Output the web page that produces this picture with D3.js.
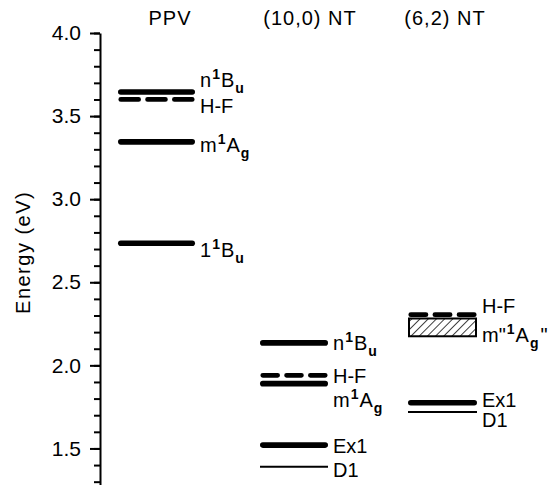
<!DOCTYPE html>
<html>
<head>
<meta charset="utf-8">
<script src="https://cdn.jsdelivr.net/npm/d3@7"></script>
<style>
  body { margin: 0; background: #fff; }
  svg { display: block; font-family: Arial, "Liberation Sans", sans-serif; }
  .axis path, .axis line { stroke: #000; stroke-width: 2; }
  .axis text { font-size: 21px; fill: #000; }
</style>
</head>
<body>
<svg id="chart" width="554" height="485"></svg>
<script>
var columns = ['PPV', '(10,0) NT', '(6,2) NT'];

// one entry per energy level
var levelColumn = ['PPV', 'PPV', 'PPV', 'PPV',
  '(10,0) NT', '(10,0) NT', '(10,0) NT', '(10,0) NT', '(10,0) NT',
  '(6,2) NT', '(6,2) NT', '(6,2) NT'];
var levelEnergy = [3.645, 3.60, 3.345, 2.735,
  2.135, 1.94, 1.89, 1.52, 1.39,
  2.305, 1.775, 1.72];
var levelKind = ['solid', 'dashed', 'solid', 'solid',
  'solid', 'dashed', 'solid', 'solid', 'thin',
  'dashed', 'solid', 'thin'];

// hatched band for m"1Ag" of (6,2) NT
var bandColumn = ['(6,2) NT'];
var bandLow = [2.175];
var bandHigh = [2.282];

// labels (energy of the text baseline): [base, superscript, subscript, letter, suffix]
var labelColumn = ['PPV', 'PPV', 'PPV', 'PPV',
  '(10,0) NT', '(10,0) NT', '(10,0) NT', '(10,0) NT', '(10,0) NT',
  '(6,2) NT', '(6,2) NT', '(6,2) NT', '(6,2) NT'];
var labelEnergy = [3.675, 3.519, 3.284, 2.652,
  2.093, 1.894, 1.750, 1.473, 1.329,
  2.315, 2.141, 1.750, 1.629];
var labelText = [
  ['n', '1', 'u', 'B'], ['H-F'], ['m', '1', 'g', 'A'], ['1', '1', 'u', 'B'],
  ['n', '1', 'u', 'B'], ['H-F'], ['m', '1', 'g', 'A'], ['Ex1'], ['D1'],
  ['H-F'], ['m"', '1', 'g', 'A', '"'], ['Ex1'], ['D1']
];

var majorTicks = [1.5, 2.0, 2.5, 3.0, 3.5, 4.0];
var minorTicks = d3.range(13, 41).map(function(d) { return d / 10; });

var svg = d3.select('#chart');

var y = d3.scaleLinear().domain([1.28, 4.0]).range([485, 33]);
var lineX = d3.scaleOrdinal().domain(columns).range([156.5, 294, 442.5]);
var lineHalf = d3.scaleOrdinal().domain(columns).range([38.5, 34, 34.5]);
var headX = d3.scaleOrdinal().domain(columns).range([170, 310, 445]);

var defs = svg.append('defs');
var pattern = defs.append('pattern')
  .attr('id', 'hatch')
  .attr('patternUnits', 'userSpaceOnUse')
  .attr('width', 5.8).attr('height', 5.8)
  .attr('patternTransform', 'rotate(45)');
pattern.append('line')
  .attr('x1', 0).attr('y1', 0).attr('x2', 0).attr('y2', 5.8)
  .attr('stroke', '#000').attr('stroke-width', 1.5);

// axis
svg.append('g')
  .attr('class', 'axis')
  .attr('transform', 'translate(100,0)')
  .call(d3.axisLeft(y).tickValues(minorTicks).tickSize(6).tickSizeOuter(0).tickFormat(''));

svg.append('g')
  .attr('class', 'axis')
  .attr('transform', 'translate(100,0)')
  .call(d3.axisLeft(y).tickValues(majorTicks).tickSize(10).tickSizeOuter(0)
    .tickPadding(9).tickFormat(d3.format('.1f')))
  .call(function(g) { g.select('.domain').remove(); });

svg.append('text')
  .attr('transform', 'translate(30,' + y(2.68) + ') rotate(-90)')
  .attr('text-anchor', 'middle')
  .attr('font-size', 20)
  .attr('letter-spacing', 1.5)
  .text('Energy (eV)');

// column headers
svg.selectAll('.header')
  .data(columns)
  .enter().append('text')
  .attr('class', 'header')
  .attr('x', function(d) { return headX(d); })
  .attr('y', 25)
  .attr('text-anchor', 'middle')
  .attr('font-size', 20)
  .attr('letter-spacing', 1)
  .text(function(d) { return d; });

// hatched band
bandColumn.forEach(function(c, i) {
  svg.append('rect')
    .attr('x', lineX(c) - lineHalf(c) + 1)
    .attr('y', y(bandHigh[i]))
    .attr('width', lineHalf(c) * 2 - 2)
    .attr('height', y(bandLow[i]) - y(bandHigh[i]))
    .attr('fill', 'url(#hatch)')
    .attr('stroke', '#000')
    .attr('stroke-width', 2);
});

// levels
var levels = levelEnergy.map(function(e, i) {
  return {column: levelColumn[i], energy: e, kind: levelKind[i]};
});

var cap = 2.8;
svg.selectAll('.level')
  .data(levels)
  .enter().append('line')
  .attr('class', 'level')
  .attr('x1', function(d) { return lineX(d.column) - lineHalf(d.column) + (d.kind == 'thin' ? 0 : cap); })
  .attr('x2', function(d) { return lineX(d.column) + lineHalf(d.column) - (d.kind == 'thin' ? 0 : cap); })
  .attr('y1', function(d) { return y(d.energy); })
  .attr('y2', function(d) { return y(d.energy); })
  .attr('stroke', '#000')
  .attr('stroke-linecap', function(d) { return d.kind == 'thin' ? 'butt' : 'round'; })
  .attr('stroke-width', function(d) { return d.kind == 'thin' ? 2 : d.kind == 'dashed' ? 4.8 : 5.6; })
  .attr('stroke-dasharray', function(d) {
    if (d.kind != 'dashed') return null;
    var len = 2 * (lineHalf(d.column) - cap), gap = 9;
    return ((len - 2 * gap) / 3) + ',' + gap;
  });

// labels
labelText.forEach(function(parts, i) {
  var t = svg.append('text')
    .attr('x', lineX(labelColumn[i]) + lineHalf(labelColumn[i]) + 5)
    .attr('y', y(labelEnergy[i]))
    .attr('font-size', 20);
  if (parts.length == 1) {
    t.text(parts[0]);
    return;
  }
  t.append('tspan').text(parts[0]);
  t.append('tspan').attr('font-size', 14).attr('font-weight', 'bold')
    .attr('dx', 1).attr('dy', -8).text(parts[1]);
  t.append('tspan').attr('dx', 1).attr('dy', 8).text(parts[3]);
  t.append('tspan').attr('font-size', 14).attr('font-weight', 'bold')
    .attr('dx', 1).attr('dy', 6).text(parts[2]);
  if (parts[4]) t.append('tspan').attr('dx', 2).attr('dy', -6).text(parts[4]);
});
</script>
</body>
</html>
